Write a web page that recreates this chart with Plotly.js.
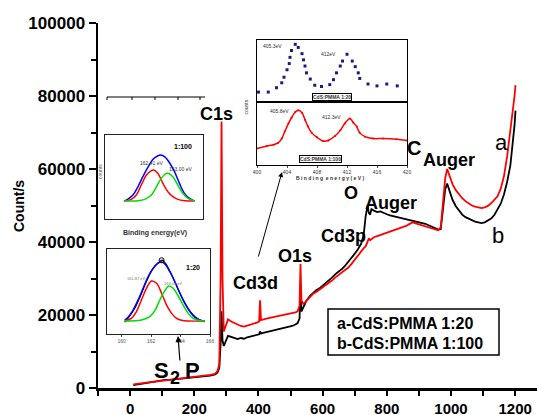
<!DOCTYPE html>
<html>
<head>
<meta charset="utf-8">
<script src="https://cdn.plot.ly/plotly-3.0.1.min.js"></script>
<style>html,body{margin:0;padding:0;background:#fff;}#chart{width:537px;height:415px;}</style>
</head>
<body>
<div id="chart"></div>
<script>
// ---- Survey spectrum (binding energy, eV) ----
const surveyEnergy = [10,30,50,70,90,110,130,150,170,190,210,230,250,265,272,278,282,285,288,292,298,305,315,325,335,345,355,365,375,385,395,402,405,408,415,425,435,445,455,465,475,485,495,505,515,522,528,531,534,540,550,560,570,580,590,600,610,620,630,640,650,660,670,680,690,700,710,720,728,734,740,744,748,752,760,770,780,790,800,810,820,830,840,850,860,870,880,890,900,910,920,930,940,950,960,968,975,982,988,995,1005,1015,1025,1035,1045,1055,1065,1075,1085,1095,1105,1115,1125,1135,1145,1155,1165,1175,1185,1192,1198,1201];
const surveyA = [1000,1300,1500,1700,1900,2100,2300,2400,2600,2800,3000,3300,3600,3900,4600,6500,30000,73000,30000,15500,17000,18800,18200,17900,17400,17000,16800,17100,17300,17600,17900,18200,24000,18600,18700,19000,19200,19400,19500,19700,19900,20100,20300,20400,20700,21000,22500,34000,24000,23000,24000,25000,25800,26300,26900,27500,28200,28700,29500,30300,31000,31600,32300,33000,34000,35200,36200,37300,38300,38800,40000,41000,40500,40800,41300,41600,41900,42300,42700,42900,43200,43600,43900,44100,44400,44900,45400,45100,44800,44700,44300,44000,43800,43500,43200,44000,52000,57500,60000,58000,55800,54200,53000,52000,51200,50600,50000,49700,49400,49300,49500,49900,50600,51600,52500,54600,58000,63500,70000,75000,80000,83000];
const surveyB = [800,1100,1400,1600,1900,2200,2300,2500,2600,2800,2900,3100,3400,3700,4200,5500,12000,21000,13000,11500,13000,14300,14000,13600,13400,13700,13500,13900,14100,14300,14400,14700,15500,14900,15100,15300,15500,15600,15900,16000,16300,16400,16800,17000,17400,17800,19000,27000,21000,22000,24000,25200,26000,26800,27300,28000,28700,29400,30300,31200,31800,32600,33500,34500,35500,36800,38000,39500,42000,47000,50000,48000,47500,49000,48600,48200,48400,47900,47600,47300,47100,47000,46800,46600,46400,46200,46000,45800,45600,45200,45000,44600,44300,43800,43400,43500,49000,54500,56000,54000,51500,49800,48500,47500,46800,46300,46000,45600,45300,45200,45400,45800,46400,47400,48800,50500,53000,56500,61000,66500,72000,76000];
const seriesNames = ['a-CdS:PMMA 1:20','b-CdS:PMMA 1:100'];
const xTicks = [0,200,400,600,800,1000,1200];

// ---- Cd3d inset (arbitrary counts) ----
const cdDotsEnergy = [400.2,401.5,402.6,403.3,403.6,404.0,404.3,404.4,404.6,405.1,405.5,406.0,406.2,406.4,406.6,407.1,407.7,408.6,409.7,410.2,410.6,411.1,411.4,412.0,412.7,413.1,413.5,413.7,414.8,416.0,417.3,418.7];
const cdDots = [16,16,23,31,40,52,62,72,83,93,88,78,68,58,47,37,27,25,28,36,47,58,66,77,66,57,47,38,29,26,29,26];
const cdLineEnergy = [400.0,401.3,402.2,402.8,403.3,403.7,404.2,404.6,405.1,405.5,406.0,406.4,406.8,407.3,408.0,408.8,409.5,410.4,411.1,411.7,412.4,412.8,413.3,413.7,414.4,415.5,416.8,418.6,420.0];
const cdLine = [26,30,32,35,42,53,66,75,84,87,83,72,61,51,44,38,39,46,55,66,74,68,61,51,45,42,42,41,39];
const cdTicks = [400,404,408,412,416,420];

// ---- S2p inset 1:100 ----
const s100BlueE = [160.2,160.47,160.81,161.15,161.49,161.83,162.18,162.52,162.7,162.97,163.31,163.65,163.99,164.33,164.68,165.02];
const s100Blue = [0,4.3,13,31,53,73,90.6,98.5,100,96.4,83.3,63.8,38.4,16.7,5.8,0];
const s100RedE = [160.2,160.7,161.04,161.38,161.73,162.07,162.24,162.52,162.86,163.2,163.54,163.88,164.34,165.02];
const s100Red = [0,3.6,13,34.8,56.5,66,67.4,60,38.4,20.3,9.4,3.6,0.7,0];
const s100GreenE = [160.2,161.15,161.61,162.07,162.41,162.75,163.09,163.25,163.54,163.88,164.22,164.56,165.02];
const s100Green = [0,0.7,3.6,13,31,49.3,60,60,53,34.8,16.7,5.8,0];

// ---- S2p inset 1:20 ----
const s20BlueE = [160.2,160.43,160.77,161.11,161.45,161.79,162.13,162.47,162.71,162.93,163.27,163.61,163.95,164.29,164.64,164.98,165.43,165.66];
const s20Blue = [1.7,6.3,18.6,35.6,55.4,75,89,98,100,96.6,83.6,66.6,47,30,15.8,6.3,0.5,-1];
const s20RedE = [160.2,160.66,161.0,161.34,161.68,162.02,162.37,162.71,163.05,163.39,163.73,164.07,164.52,165.66];
const s20Red = [0,4.6,15.8,35.6,55.4,67.8,63.9,47,27,13,4.6,1.2,0,0];
const s20GreenE = [160.2,161.34,161.91,162.25,162.59,162.93,163.2,163.5,163.84,164.18,164.52,164.86,165.2,165.66];
const s20Green = [0,1.7,7.3,17.5,35.6,51.4,59.3,55.4,42.4,27,13,4.6,1.2,0];
const s20RawE = [160.2,160.5,160.9,161.3,161.7,162.1,162.5,162.75,163.0,163.4,163.8,164.2,164.6,165.0,165.4,165.6];
const s20Raw = [-2,7,22,44,68,88,99,103,97,78,56,35,18,7,1,0];
const s20Ticks = [160,162,164,166];

const FONT = 'Liberation Sans, Arial, sans-serif';
const L = 98, T = 23, W = 439, H = 365, B = 388;
const px = x => (x - L) / W;
const py = y => (B - y) / H;

const traces = [
  {x: surveyEnergy, y: surveyB, type:'scatter', mode:'lines', name: seriesNames[1], line:{color:'#000000', width:1.8}, xaxis:'x', yaxis:'y'},
  {x: surveyEnergy, y: surveyA, type:'scatter', mode:'lines', name: seriesNames[0], line:{color:'#ff0000', width:1.8}, xaxis:'x', yaxis:'y'},
  {x: cdDotsEnergy, y: cdDots, type:'scatter', mode:'markers', marker:{color:'#1c1c7a', size:3, symbol:'square'}, xaxis:'x2', yaxis:'y2'},
  {x: cdLineEnergy, y: cdLine, type:'scatter', mode:'lines+markers', line:{color:'#ff0000', width:1.5, shape:'spline'}, marker:{color:'#ff0000', size:2}, xaxis:'x3', yaxis:'y3'},
  {x: s100BlueE, y: s100Blue, type:'scatter', mode:'lines', line:{color:'#0000ff', width:1.5, shape:'spline'}, xaxis:'x4', yaxis:'y4'},
  {x: s100RedE, y: s100Red, type:'scatter', mode:'lines', line:{color:'#ff0000', width:1.5, shape:'spline'}, xaxis:'x4', yaxis:'y4'},
  {x: s100GreenE, y: s100Green, type:'scatter', mode:'lines', line:{color:'#00dd00', width:1.5, shape:'spline'}, xaxis:'x4', yaxis:'y4'},
  {x: s20RawE, y: s20Raw, type:'scatter', mode:'lines', line:{color:'#000000', width:1.2, shape:'spline'}, xaxis:'x5', yaxis:'y5'},
  {x: s20BlueE, y: s20Blue, type:'scatter', mode:'lines', line:{color:'#0000ff', width:1.5, shape:'spline'}, xaxis:'x5', yaxis:'y5'},
  {x: s20RedE, y: s20Red, type:'scatter', mode:'lines', line:{color:'#ff0000', width:1.5, shape:'spline'}, xaxis:'x5', yaxis:'y5'},
  {x: s20GreenE, y: s20Green, type:'scatter', mode:'lines', line:{color:'#00dd00', width:1.5, shape:'spline'}, xaxis:'x5', yaxis:'y5'},
  {x: [s20BlueE[8]], y: [s20Raw[7]], type:'scatter', mode:'markers', marker:{color:'rgba(0,0,0,0)', size:5, line:{color:'#000', width:1}}, xaxis:'x5', yaxis:'y5'}
];

const boxAxis = (dom, anchor, range, extra) => Object.assign({
  domain: dom, anchor: anchor, range: range, showline:true, mirror:true, linecolor:'#000', linewidth:1.2,
  showgrid:false, zeroline:false, showticklabels:false, ticks:'', fixedrange:true
}, extra || {});

const ann = (x, y, text, size, opts) => Object.assign({
  xref:'paper', yref:'paper', x: px(x), y: py(y), text: text, showarrow:false,
  xanchor:'center', yanchor:'middle', font:{family:FONT, size:size, color:'#000', weight:'bold'}
}, opts || {});

const annotations = [
  {xref:'paper', yref:'paper', x: px(19), y: py(206), text:'Count/s', textangle:-90, showarrow:false, xanchor:'center', yanchor:'middle', font:{family:FONT, size:14, weight:'bold', color:'#000'}},
  ann(216, 114, 'C1s', 18),
  ann(255, 283, 'Cd3d', 18),
  ann(295, 256, 'O1s', 18),
  ann(343, 236, 'Cd3p', 18),
  ann(351, 193, 'O', 18),
  ann(391, 203, 'Auger', 18),
  ann(414, 148, 'C', 20),
  ann(449, 160, 'Auger', 18),
  ann(501, 142, 'a', 22, {font:{family:FONT, size:22, color:'#000'}}),
  ann(498, 235, 'b', 22, {font:{family:FONT, size:22, color:'#000'}}),
  ann(161, 370, 'S', 22),
  ann(175, 378, '2', 18),
  ann(192, 370, 'P', 22),
  ann(335, 323, seriesNames[0], 16, {xanchor:'left'}),
  ann(335, 343, seriesNames[1], 16, {xanchor:'left'}),
  // Cd3d inset texts
  ann(272, 46, '405.3eV', 5, {font:{family:FONT, size:5, color:'#333'}}),
  ann(328, 54, '412eV', 5, {font:{family:FONT, size:5, color:'#333'}}),
  ann(279, 111, '405.8eV', 5, {font:{family:FONT, size:5, color:'#333'}}),
  ann(331, 117, '412.3eV', 5, {font:{family:FONT, size:5, color:'#333'}}),
  ann(332, 97, 'CdS:PMMA 1:20', 5, {font:{family:FONT, size:5, color:'#333', weight:'bold'}, bordercolor:'#000', borderwidth:1, borderpad:0, bgcolor:'#fff'}),
  ann(320, 159, 'CdS:PMMA 1:100', 5, {font:{family:FONT, size:5, color:'#333', weight:'bold'}, bordercolor:'#000', borderwidth:1, borderpad:0, bgcolor:'#fff'}),
  ann(330, 178, 'B i n d i n g  e n e r g y ( e V )', 5, {font:{family:FONT, size:5, color:'#333', weight:'bold'}}),
  {xref:'paper', yref:'paper', x: px(245), y: py(98), text:'counts', textangle:-90, showarrow:false, font:{family:FONT, size:5, color:'#333'}},
  // S2p insets texts
  ann(183, 146, '1:100', 7),
  ann(151, 163, '162.41 eV', 5, {font:{family:FONT, size:5, color:'#333'}}),
  ann(180, 169, '163.00 eV', 5, {font:{family:FONT, size:5, color:'#333'}}),
  ann(155, 233, 'Binding energy(eV)', 7, {font:{family:FONT, size:7, color:'#333', weight:'bold'}}),
  {xref:'paper', yref:'paper', x: px(95), y: py(172), text:'counts', textangle:-90, showarrow:false, font:{family:FONT, size:5, color:'#555'}},
  ann(193, 267, '1:20', 7),
  ann(136, 278, '161.87 eV', 4, {font:{family:FONT, size:4, color:'#777'}}),
  ann(173, 283, '163.06 eV', 4, {font:{family:FONT, size:4, color:'#777'}}),
  // arrows
  {xref:'paper', yref:'paper', x: px(282), y: py(172), ax:-24, ay:86, text:'', showarrow:true, arrowhead:2, arrowsize:1, arrowwidth:1, arrowcolor:'#000'},
  {xref:'paper', yref:'paper', x: px(178), y: py(336), ax:2, ay:26, text:'', showarrow:true, arrowhead:2, arrowsize:1, arrowwidth:1.2, arrowcolor:'#000'}
];

const shapes = [
  {type:'rect', xref:'paper', yref:'paper', x0: px(328), x1: px(499), y0: py(355), y1: py(309), line:{color:'#000', width:1.5}},
  {type:'line', xref:'paper', yref:'paper', x0: px(107), x1: px(205), y0: py(97), y1: py(97), line:{color:'#000', width:1}}
];
[107,132,155,178,200].forEach(t => shapes.push({type:'line', xref:'paper', yref:'paper', x0: px(t), x1: px(t), y0: py(97), y1: py(100), line:{color:'#000', width:1}}));

const layout = {
  width:537, height:415,
  margin:{l:L, r:0, t:T, b:27},
  paper_bgcolor:'#fff', plot_bgcolor:'rgba(0,0,0,0)',
  showlegend:false,
  font:{family:FONT, color:'#000'},
  xaxis:{
    domain:[0,1], anchor:'y', range:[-100,1268], showline:true, linecolor:'#000', linewidth:2.5,
    showgrid:false, zeroline:false, tickvals:xTicks, ticks:'outside', ticklen:5, tickwidth:2, tickcolor:'#000',
    minor:{dtick:100, tick0:0, ticks:'outside', ticklen:5, tickwidth:2, tickcolor:'#000', showgrid:false},
    tickfont:{family:FONT, size:15, weight:'bold', color:'#000'}, automargin:false
  },
  yaxis:{
    domain:[0,1], anchor:'x', range:[0,100000], showline:true, linecolor:'#000', linewidth:2.5,
    showgrid:false, zeroline:false, dtick:20000, tick0:0, tickformat:'d', ticks:'outside', ticklen:7, tickwidth:2, tickcolor:'#000',
    minor:{dtick:10000, ticks:'outside', ticklen:5, tickwidth:2, tickcolor:'#000', showgrid:false},
    tickfont:{family:FONT, size:17, weight:'bold', color:'#000'}, automargin:false
  },
  xaxis2: boxAxis([px(257), px(407)], 'y2', [400,420]),
  yaxis2: boxAxis([py(102), py(40)], 'x2', [0,100]),
  xaxis3: boxAxis([px(257), px(407)], 'y3', [400,420], {showticklabels:true, tickvals:cdTicks, ticks:'outside', ticklen:2, tickwidth:1, tickfont:{family:FONT, size:5, color:'#333'}}),
  yaxis3: boxAxis([py(165), py(102)], 'x3', [0,100]),
  xaxis4: boxAxis([px(105), px(203)], 'y4', [158.9,165.6], {linecolor:'#222', linewidth:1}),
  yaxis4: boxAxis([py(219), py(135)], 'x4', [-39,143.5], {linecolor:'#222', linewidth:1}),
  xaxis5: boxAxis([px(107), px(210)], 'y5', [159,166], {linecolor:'#222', linewidth:1, showticklabels:true, tickvals:s20Ticks, ticks:'outside', ticklen:2, tickwidth:1, tickfont:{family:FONT, size:5, color:'#555'}}),
  yaxis5: boxAxis([py(334), py(249)], 'x5', [-22,122], {linecolor:'#222', linewidth:1}),
  annotations: annotations,
  shapes: shapes
};

Plotly.newPlot('chart', traces, layout, {displayModeBar:false, staticPlot:true});
</script>
</body>
</html>
